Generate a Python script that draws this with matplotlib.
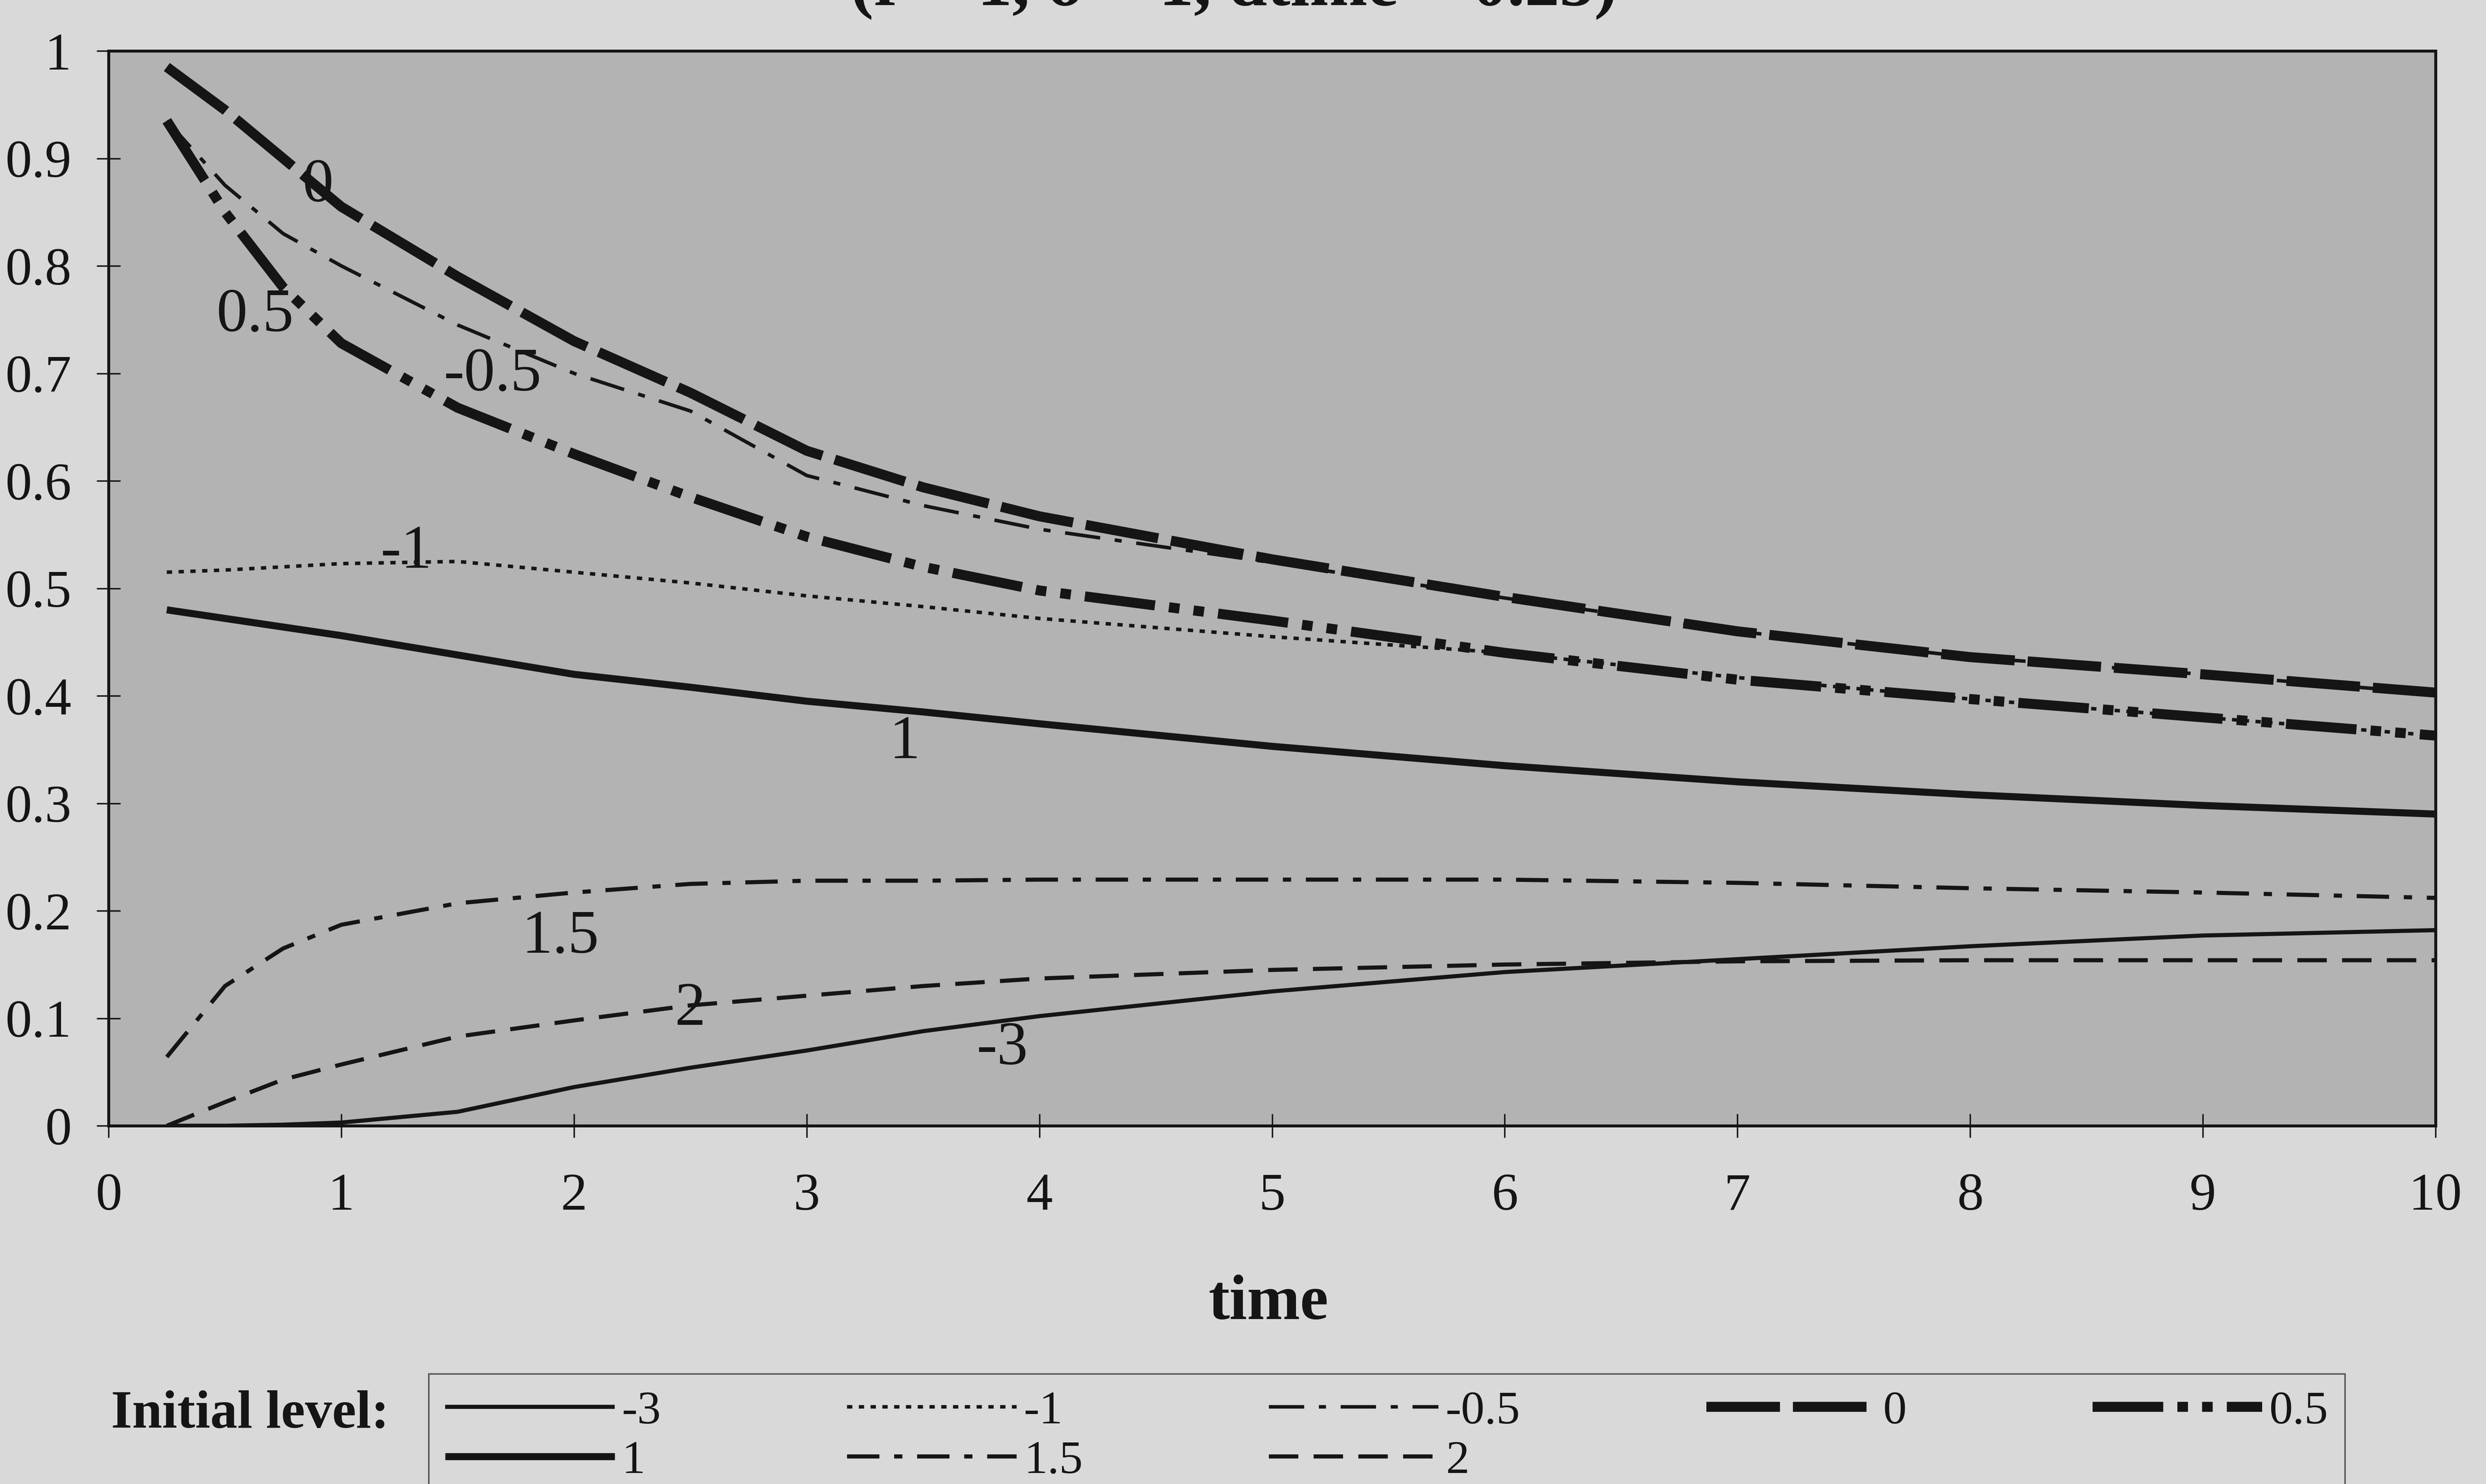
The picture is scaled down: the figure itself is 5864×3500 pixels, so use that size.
import matplotlib
matplotlib.use("Agg")
import matplotlib.pyplot as plt

plt.rcParams['font.family'] = ['Liberation Serif', 'DejaVu Serif']
plt.rcParams['lines.scale_dashes'] = False

# time grid
time = [0.25, 0.5, 0.75, 1, 1.5, 2, 2.5, 3, 3.5, 4, 5, 6, 7, 8, 9, 10]

# one series per initial level
level_m3 = [0.0, 0.0, 0.001, 0.003, 0.013, 0.036, 0.054, 0.070, 0.088, 0.102, 0.125, 0.143, 0.155, 0.167, 0.177, 0.182]
level_1 = [0.480, 0.472, 0.464, 0.456, 0.438, 0.420, 0.408, 0.395, 0.385, 0.374, 0.353, 0.335, 0.320, 0.308, 0.298, 0.290]
level_m1 = [0.515, 0.517, 0.520, 0.523, 0.525, 0.515, 0.505, 0.493, 0.483, 0.472, 0.455, 0.440, 0.417, 0.397, 0.380, 0.363]
level_15 = [0.064, 0.130, 0.165, 0.187, 0.207, 0.217, 0.225, 0.228, 0.228, 0.229, 0.229, 0.229, 0.226, 0.221, 0.217, 0.212]
level_m05 = [0.935, 0.875, 0.830, 0.800, 0.745, 0.700, 0.665, 0.605, 0.577, 0.555, 0.524, 0.491, 0.460, 0.436, 0.420, 0.402]
level_2 = [0.0, 0.022, 0.043, 0.057, 0.083, 0.098, 0.112, 0.121, 0.130, 0.137, 0.145, 0.150, 0.153, 0.154, 0.154, 0.154]
level_0 = [0.985, 0.945, 0.900, 0.855, 0.790, 0.730, 0.682, 0.628, 0.594, 0.567, 0.527, 0.492, 0.460, 0.436, 0.420, 0.403]
level_05 = [0.935, 0.850, 0.780, 0.728, 0.668, 0.625, 0.585, 0.548, 0.520, 0.498, 0.470, 0.440, 0.415, 0.397, 0.380, 0.363]

labels = ['-3', '1', '-1', '1.5', '-0.5', '2', '0', '0.5']
series = [level_m3, level_1, level_m1, level_15, level_m05, level_2, level_0, level_05]

# line styles (width, dash pattern in points)
styles = {
    '-3': (7, None),
    '1': (12, None),
    '-1': (6, (9, 11)),
    '1.5': (7, (55, 25, 14, 25)),
    '-0.5': (6, (60, 25, 12, 25)),
    '2': (7, (50, 26)),
    '0': (17, (125, 22)),
    '0.5': (17, (120, 24, 18, 24, 18, 24)),
}

# curve annotations: (x, y, text)
ann_x = [3.84, 2.5, 1.94, 3.42, 1.28, 1.65, 0.9, 0.63]
ann_y = [0.071, 0.108, 0.175, 0.356, 0.533, 0.698, 0.874, 0.753]
ann_txt = ['-3', '2', '1.5', '1', '-1', '-0.5', '0', '0.5']

ink = '#151515'
fig = plt.figure(figsize=(58.64, 35), dpi=100, facecolor='#d9d9d9')
ax = fig.add_axes([0.0437, 0.2414, 0.9360, 0.7243])
ax.set_facecolor('#b3b3b3')

for lab, y in zip(labels, series):
    lw, dash = styles[lab]
    line, = ax.plot(time, y, color=ink, lw=lw, label=lab,
                    solid_capstyle='butt', dash_capstyle='butt')
    if dash is not None:
        line.set_dashes(dash)

for x, y, t in zip(ann_x, ann_y, ann_txt):
    ax.text(x, y, t, fontsize=105, color=ink, ha='center', va='center')

ax.set_xlim(0, 10)
ax.set_ylim(0, 1)
ax.set_xticks(range(0, 11))
ax.set_yticks([i / 10 for i in range(11)])
ax.set_yticklabels(['0', '0.1', '0.2', '0.3', '0.4', '0.5', '0.6', '0.7', '0.8', '0.9', '1'])
ax.tick_params(axis='both', direction='inout', length=40, width=2.5, colors=ink,
               labelsize=90, labelcolor=ink)
ax.tick_params(axis='x', pad=60)
ax.tick_params(axis='y', pad=43)
for s in ax.spines.values():
    s.set_linewidth(5)
    s.set_color(ink)

fig.text(0.4964, 0.9966, '(r = 1, \u03c3 = 1, dtime = 0.25)', ha='center', va='baseline',
         fontsize=118, fontweight='bold', color=ink)
fig.text(0.5102, 0.1217, 'time', ha='center', va='center', fontsize=108,
         fontweight='bold', color=ink)
fig.text(0.0447, 0.0466, 'Initial level:', ha='left', va='center', fontsize=92,
         fontweight='bold', color=ink)

leg = ax.legend(loc='upper left', bbox_to_anchor=(0.1724, 0.0043, 0.7708, 0.0700),
                bbox_transform=fig.transFigure, mode='expand', ncol=5,
                fontsize=80, handlelength=3.6, handletextpad=0.15,
                labelspacing=0.15, borderpad=0.35, borderaxespad=0,
                frameon=True, fancybox=False)
leg.get_frame().set_facecolor('#d9d9d9')
leg.get_frame().set_edgecolor('#333333')
leg.get_frame().set_linewidth(2.5)
for t in leg.get_texts():
    t.set_color(ink)

fig.savefig('out.png', dpi=100, facecolor=fig.get_facecolor())
